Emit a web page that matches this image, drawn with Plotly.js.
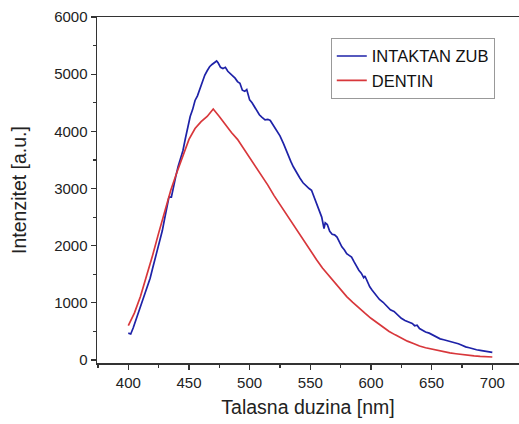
<!DOCTYPE html>
<html>
<head>
<meta charset="utf-8">
<script src="https://cdn.plot.ly/plotly-3.0.1.min.js"></script>
<style>html,body{margin:0;padding:0;background:#fff;}#chart{width:519px;height:424px;}</style>
</head>
<body>
<div id="chart"></div>
<script>
// INTAKTAN ZUB (blue)
const zubWavelength = [400,402,404,406,408,410,412,414,416,418,420,422,424,426,428,430,432,433.5,435.5,437,439,441,443,445,447,449,451,453,455,457,459,461,463,465,467,469,471,472.8,474,476,478,480,482,484,486,488,490,492,494,496,497.6,500,502,505,508,510,512.7,515,517,520,522,525,528,530,532,534,536,539,541.5,544,547,549,551,553,555,557,559.4,561.3,562.3,564,566,568,570,572,574,576,578,580,582,584,586,588,590,592,594,595,597,599,601,603,605,607,610,613,616,619,622,625,628,631,634,636,638,640,642,645,648,651,654,657,660,663,665,668,670,672,675,678,681,684,687,690,693,696,700];
const zubIntensity = [470,455,560,680,790,920,1040,1160,1310,1430,1600,1760,1910,2060,2260,2480,2720,2850,2850,3020,3200,3380,3530,3660,3870,4100,4260,4380,4540,4620,4750,4860,4980,5060,5130,5170,5200,5230,5200,5120,5100,5120,5050,5010,4960,4930,4870,4840,4720,4700,4730,4550,4500,4400,4290,4250,4200,4210,4190,4090,4020,3920,3780,3670,3550,3470,3380,3260,3180,3100,3030,3000,2970,2850,2750,2630,2500,2300,2400,2370,2250,2200,2190,2150,2050,1980,1930,1860,1830,1800,1720,1640,1570,1520,1440,1470,1360,1280,1220,1170,1110,1060,1010,940,880,850,790,730,690,665,640,600,610,550,520,490,470,440,400,370,355,340,325,305,300,285,260,230,215,195,180,170,160,150,135];

// DENTIN (red)
const dentinWavelength = [400,405,410,415,420,425,430,435,440,445,450,455,460,465,470,475,480,485,490,495,500,505,510,515,520,525,530,535,540,545,550,555,560,565,570,575,580,585,590,595,600,605,610,615,620,625,630,635,640,645,650,655,660,665,670,675,680,685,690,695,700];
const dentinIntensity = [600,820,1110,1450,1830,2220,2620,2970,3280,3580,3860,4050,4170,4260,4390,4260,4110,3980,3860,3700,3540,3390,3220,3060,2880,2720,2550,2390,2230,2060,1910,1760,1610,1480,1360,1230,1110,1010,910,820,730,650,570,500,440,380,330,290,245,215,190,165,145,125,110,95,82,72,64,58,53];

const seriesNames = ['INTAKTAN ZUB', 'DENTIN'];
const xTitle = 'Talasna duzina [nm]';
const yTitle = 'Intenzitet [a.u.]';

const traces = [
  {x: zubWavelength, y: zubIntensity, name: seriesNames[0], type: 'scatter', mode: 'lines',
   line: {color: '#1e22a8', width: 1.7}},
  {x: dentinWavelength, y: dentinIntensity, name: seriesNames[1], type: 'scatter', mode: 'lines',
   line: {color: '#d8373b', width: 1.7}}
];

const fam = 'Arial, Liberation Sans, sans-serif';
const axisFont = {family: fam, size: 15, color: '#222'};
const layout = {
  width: 519, height: 424,
  margin: {l: 97, r: 0, t: 17, b: 61, pad: 0},
  paper_bgcolor: '#fff', plot_bgcolor: '#fff',
  showlegend: true,
  legend: {x: 0.554, y: 0.94, xanchor: 'left', yanchor: 'top',
    bgcolor: '#fff', bordercolor: '#999', borderwidth: 1,
    font: {family: fam, size: 16.5, color: '#111'},
    tracegroupgap: 0},
  xaxis: {
    range: [374.2, 722], showgrid: false, zeroline: false,
    showline: true, linecolor: '#333', linewidth: 1.5, mirror: true,
    ticks: 'outside', ticklen: 5, tickwidth: 1.2, tickcolor: '#333',
    tick0: 400, dtick: 50, tickfont: axisFont,
    minor: {tick0: 425, dtick: 50, ticks: 'outside', ticklen: 3, tickcolor: '#333', showgrid: false},
    title: {text: xTitle, font: {family: fam, size: 19.5, color: '#222'}, standoff: 11}
  },
  yaxis: {
    range: [-52, 6000], showgrid: false, zeroline: false,
    showline: true, linecolor: '#333', linewidth: 1.5,
    ticks: 'outside', ticklen: 5, tickwidth: 1.2, tickcolor: '#333',
    tick0: 0, dtick: 1000, tickfont: axisFont,
    minor: {dtick: 500, ticks: 'outside', ticklen: 3, tickcolor: '#333', showgrid: false},
    title: {text: yTitle, font: {family: fam, size: 19.5, color: '#222'}, standoff: 22}
  }
};

Plotly.newPlot('chart', traces, layout, {displayModeBar: false, staticPlot: true});
</script>
</body>
</html>
